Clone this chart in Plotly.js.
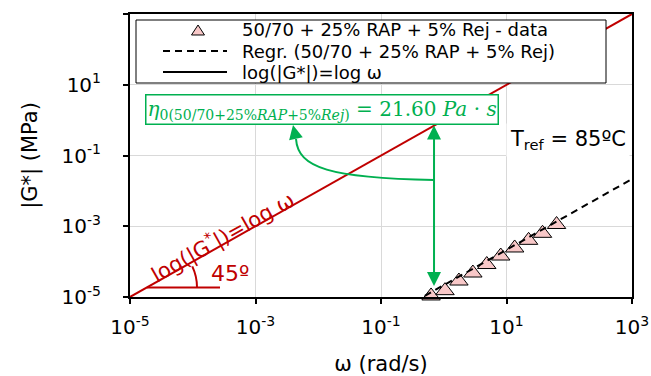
<!DOCTYPE html>
<html><head><meta charset="utf-8">
<script src="https://cdn.plot.ly/plotly-3.0.1.min.js"></script>
<style>html,body{margin:0;padding:0;background:#fff}#chart{width:651px;height:376px}</style>
</head><body><div id="chart"></div>
<script>
// ---- data ----
const omega = [0.628, 1.047, 1.745, 2.91, 4.85, 8.09, 13.49, 22.5, 37.5, 62.8];      // rad/s
const gStar = [1.07e-5, 1.51e-5, 2.83e-5, 4.76e-5, 8.28e-5, 1.44e-4, 2.43e-4, 4.0e-4, 6.31e-4, 1.12e-3]; // MPa
const regOmega = [0.5, 1000];
const regG = [1.08e-5, 2.16e-2];
const identX = [1e-5, 1e3];
const identY = [1e-5, 1e3];
const tickVals = [1e-5, 1e-3, 1e-1, 1e1, 1e3];
const tickText = ['10<sup>-5</sup>', '10<sup>-3</sup>', '10<sup>-1</sup>', '10<sup>1</sup>', '10<sup>3</sup>'];
const legendNames = ['50/70 + 25% RAP + 5% Rej - data', 'Regr. (50/70 + 25% RAP + 5% Rej)', 'log(|G*|)=log ω'];
const eta0 = '21.60';
const arrowOmega = 0.7;

// ---- styling ----
const FONT = 'DejaVu Sans, Verdana, sans-serif';
const RED = '#C00000', GREEN = '#00B050', PINK = '#F8C8C8';
const L = 130, R = 632, T = 14, B = 297;
const X = px => (px - L) / (R - L);
const Y = py => (B - py) / (B - T);
const pt = (px, py) => X(px).toFixed(4) + ',' + Y(py).toFixed(4);

const traces = [
  {x: identX, y: identY, mode: 'lines', line: {color: RED, width: 2}, name: legendNames[2], hoverinfo: 'skip'},
  {x: omega, y: gStar, mode: 'markers', name: legendNames[0], cliponaxis: false,
   marker: {symbol: 'triangle-up', size: 16, color: PINK, line: {color: '#000', width: 1}}},
  {x: regOmega, y: regG, mode: 'lines', name: legendNames[1], line: {color: '#000', width: 2, dash: '7px,5px'}}
];

const axisCommon = {
  type: 'log', range: [-5, 3], tickvals: tickVals, ticktext: tickText,
  showgrid: true, gridcolor: '#D9D9D9', gridwidth: 1,
  showline: true, linecolor: '#000', linewidth: 2, mirror: true,
  ticks: 'outside', ticklen: 5, tickwidth: 2, tickcolor: '#000',
  zeroline: false, tickfont: {family: FONT, size: 20, color: '#000'}, automargin: false
};

// legend rows (pixel rows of the drawn legend)
const rowY = [30, 51, 72];

const shapes = [
  // legend box
  {type: 'rect', xref: 'paper', yref: 'paper', x0: X(136), x1: X(606), y0: Y(83), y1: Y(20),
   line: {color: '#000', width: 1}, fillcolor: '#fff', layer: 'above'},
  {type: 'path', xref: 'paper', yref: 'paper', path: 'M' + pt(191.5, rowY[0] + 5) + 'L' + pt(204.5, rowY[0] + 5) + 'L' + pt(198, rowY[0] - 5) + 'Z',
   fillcolor: PINK, line: {color: '#000', width: 1}, layer: 'above'},
  {type: 'line', xref: 'paper', yref: 'paper', x0: X(163), x1: X(227), y0: Y(rowY[1]), y1: Y(rowY[1]),
   line: {color: '#000', width: 2, dash: '7px,5px'}, layer: 'above'},
  {type: 'line', xref: 'paper', yref: 'paper', x0: X(163), x1: X(227), y0: Y(rowY[2]), y1: Y(rowY[2]),
   line: {color: '#000', width: 2}, layer: 'above'},
  // 45 degree marker
  {type: 'line', xref: 'paper', yref: 'paper', x0: X(147), x1: X(220), y0: Y(287.5), y1: Y(287.5),
   line: {color: RED, width: 2}, layer: 'above'},
  {type: 'path', xref: 'paper', yref: 'paper', path: 'M' + pt(197, 287.5) + 'Q' + pt(197, 276.4) + ' ' + pt(192.3, 266.4),
   line: {color: RED, width: 2}, layer: 'above'},
  // curved green arrow
  {type: 'path', xref: 'paper', yref: 'paper',
   path: 'M' + pt(434, 180) + 'C' + pt(330, 178) + ' ' + pt(298, 168) + ' ' + pt(296, 139),
   line: {color: GREEN, width: 2}, layer: 'above'}
];

const C = {xanchor: 'center', yanchor: 'middle'};
const LEGFONT = {family: FONT, size: 18, color: '#000'};
const annotations = [
  Object.assign({xref: 'paper', yref: 'paper', x: X(321.5), y: Y(109), showarrow: false,
   text: '<i>η</i><sub>0(50/70+25%<i>RAP</i>+5%<i>Rej</i>)</sub> = ' + eta0 + ' <i>Pa</i> · <i>s</i>',
   font: {family: 'DejaVu Serif, serif', size: 20, color: GREEN},
   bordercolor: GREEN, borderwidth: 1.5, borderpad: 1, bgcolor: '#fff'}, C),
  {xref: 'paper', yref: 'paper', x: X(630), y: Y(140), xanchor: 'right', yanchor: 'middle', showarrow: false,
   text: 'T<sub>ref</sub> = 85ºC', font: {family: FONT, size: 21, color: '#000'}, bgcolor: '#fff', borderpad: 3},
  Object.assign({xref: 'paper', yref: 'paper', x: X(222), y: Y(236), showarrow: false, textangle: -29.41,
   text: 'log(|G<sup>*</sup>|)=log ω', font: {family: FONT, size: 21, color: RED}}, C),
  Object.assign({xref: 'paper', yref: 'paper', x: X(230), y: Y(273.5), showarrow: false,
   text: '45º', font: {family: FONT, size: 22, color: RED}}, C),
  {xref: 'x', yref: 'y', x: Math.log10(arrowOmega), y: Math.log10(arrowOmega), text: '', showarrow: true,
   ax: 0, ay: 162, arrowside: 'end+start', arrowhead: 2, startarrowhead: 2, arrowsize: 1.4, startarrowsize: 1.4,
   arrowwidth: 2, arrowcolor: GREEN, standoff: 0, startstandoff: 0},
  {xref: 'paper', yref: 'paper', x: X(293), y: Y(125), text: '', showarrow: true, ax: 3, ay: 14,
   arrowhead: 2, arrowsize: 1.4, arrowwidth: 2, arrowcolor: GREEN, standoff: 0},
  {xref: 'paper', yref: 'paper', x: X(240), y: Y(rowY[0]), xanchor: 'left', yanchor: 'middle', showarrow: false, text: legendNames[0], font: LEGFONT},
  {xref: 'paper', yref: 'paper', x: X(240), y: Y(rowY[1]), xanchor: 'left', yanchor: 'middle', showarrow: false, text: legendNames[1], font: LEGFONT},
  {xref: 'paper', yref: 'paper', x: X(240), y: Y(rowY[2]), xanchor: 'left', yanchor: 'middle', showarrow: false, text: legendNames[2], font: LEGFONT}
];

const layout = {
  width: 651, height: 376,
  margin: {l: L, r: 651 - R, t: T, b: 376 - B, pad: 0},
  paper_bgcolor: '#fff', plot_bgcolor: '#fff', showlegend: false,
  font: {family: FONT, size: 20, color: '#000'},
  xaxis: Object.assign({}, axisCommon, {title: {text: 'ω (rad/s)', font: {family: FONT, size: 21}, standoff: 19}, ticklabelstandoff: 6}),
  yaxis: Object.assign({}, axisCommon, {title: {text: '|G*| (MPa)', font: {family: FONT, size: 21}, standoff: 18}, ticklabelstandoff: 18}),
  shapes: shapes, annotations: annotations
};

Plotly.newPlot('chart', traces, layout, {staticPlot: true, displayModeBar: false});
</script></body></html>
